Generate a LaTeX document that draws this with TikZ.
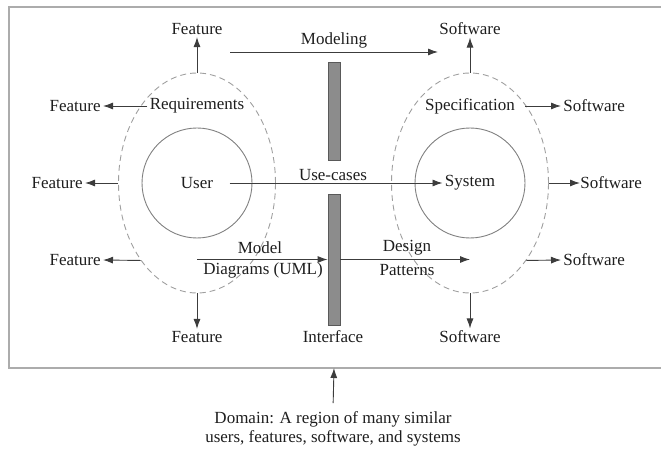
\documentclass[tikz,border=0pt]{standalone}
\usepackage{fontspec}
\setmainfont{Liberation Serif}
\usetikzlibrary{shapes.geometric,arrows.meta,positioning}
\definecolor{inkgray}{RGB}{30,30,30}
\definecolor{linegray}{RGB}{60,60,60}
\tikzset{
every picture/.style={
line width=0.9pt
}}
\tikzset{
lbl/.style={text=inkgray, font=\fontsize{17}{19}\selectfont, inner sep=2pt},
arr/.style={draw=linegray, -{Latex[length=10pt,width=7pt]}},
egg/.style={ellipse, draw=gray!75, dash pattern=on 6pt off 4pt, minimum width=157pt, minimum height=220pt},
ring/.style={circle, draw=gray, minimum size=110pt},
bar/.style={rectangle, draw=black!65, fill=gray!90, minimum width=12pt},
frame/.style={draw=gray!65, line width=1.3pt}
}

\begin{document}
\begin{tikzpicture}[x=1pt, y=-1pt]
\useasboundingbox (0,0) rectangle (661,449);

% domain frame, open on the right
\draw[frame] (661,7) -- (9,7) -- (9,368) -- (661,368);
\coordinate (dom) at (334,368);

% left side
\node [egg] at (197,183) (reqs) {};
\node [ring] at (197,183) (usrc) {};
\node [lbl] at (197,183) (user) {User};
\node [lbl] at (197,106) (req) {Requirements};

\node [lbl] at (197,29) (ftop) {Feature};
\node [lbl, anchor=east] at (103,106) (fl1) {Feature};
\node [lbl, anchor=east] at (85,183) (fl2) {Feature};
\node [lbl, anchor=east] at (103,260) (fl3) {Feature};
\node [lbl] at (197,337) (fbot) {Feature};

% right side
\node [egg] at (470,183) (specs) {};
\node [ring] at (470,183) (sysc) {};
\node [lbl] at (470,183) (sys) {System};
\node [lbl] at (470,106) (spec) {Specification};

\node [lbl] at (470,29) (stop) {Software};
\node [lbl, anchor=west] at (561,106) (sr1) {Software};
\node [lbl, anchor=west, inner sep=0pt] at (580,183) (sr2) {Software};
\node [lbl, anchor=west] at (561,260) (sr3) {Software};
\node [lbl] at (470,337) (sbot) {Software};

% interface bars
\node [bar, minimum height=98pt] at (334,111) (bartop) {};
\node [bar, minimum height=131pt] at (334,259.5) (barbot) {};
\node [lbl] at (333,337) (intf) {Interface};

\node [lbl] at (334,40) (mdl) {Modeling};
\node [lbl] at (333,175) (uc) {Use-cases};
\node [lbl] at (260,248) (umla) {Model};
\node [lbl] at (263,270) (umlb) {Diagrams (UML)};
\node [lbl] at (407,248) (dpa) {Design};
\node [lbl] at (407,270) (dpb) {Patterns};

\node [lbl, align=center] at (333,429) (dtxt) {Domain: A region of many similar\\users, features, software, and systems};

\coordinate (m1) at (230,52);
\coordinate (m2) at (438,52);

\draw[arr] (reqs.north) -- (ftop.south);
\draw[arr] (req.west) -- (fl1.east);
\draw[arr] (reqs.west) -- (fl2.east);
\draw[arr] (reqs.234) -- (fl3.east);
\draw[arr] (reqs.south) -- (fbot.north);

\draw[arr] (specs.north) -- (stop.south);
\draw[arr, shorten <=8pt] (spec.east) -- (sr1.west);
\draw[arr] (specs.east) -- (sr2.west);
\draw[arr] (specs.-54) -- (sr3.west);
\draw[arr] (specs.south) -- (sbot.north);

\draw[arr] (m1) -- (m2);
\draw[arr, shorten <=14pt] (user.east) -- (sys.west);
\draw[arr] (reqs.center |- barbot.west) -- (barbot.west);
\draw[arr] (barbot.east) -- (barbot.east -| specs.center);

\draw[arr, shorten <=6pt] (dtxt.north) -- (dom);

\end{tikzpicture}
\end{document}
